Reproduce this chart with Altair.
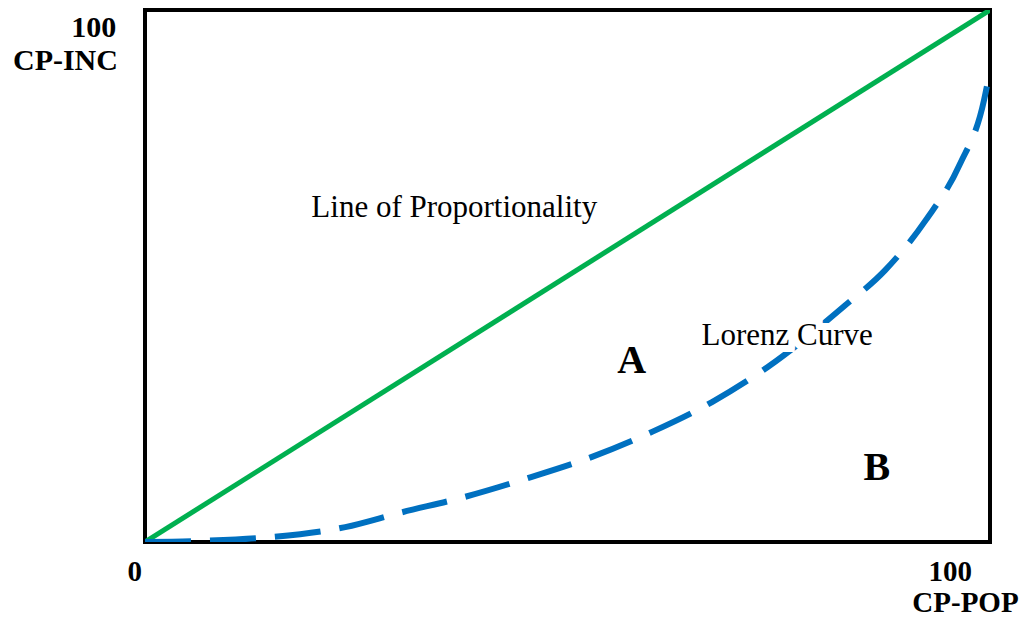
import altair as alt
import pandas as pd

# Lorenz curve (cumulative % population vs cumulative % income)
lorenz_x = [0, 6.5, 14.8, 23.7, 30.2, 37.9, 45.3, 52.9, 60.0, 67.1, 73.7, 82.8, 87.6, 92.4, 96.4, 99.3, 100]
lorenz_y = [0, 0.2, 0.9, 2.8, 5.5, 8.5, 12.0, 16.0, 20.7, 26.3, 32.9, 44.4, 51.1, 60.5, 70.9, 83.1, 88.7]

# Line of proportionality
equal_x = [0, 100]
equal_y = [0, 100]

# Annotation labels
bold_labels = ["100", "CP-INC", "0", "100", "CP-POP"]
bold_x = [-3.4, -3.2, -1.2, 95.3, 97.1]
bold_y = [94.9, 88.7, -7.3, -7.3, -13.2]
bold_align = ["right", "right", "center", "center", "center"]

plain_labels = ["Line of Proportionality", "Lorenz Curve"]
plain_x = [36.6, 76.0]
plain_y = [61.1, 37.0]

area_labels = ["A", "B"]
area_x = [57.6, 86.6]
area_y = [31.8, 11.7]

lorenz_df = pd.DataFrame({"x": lorenz_x, "y": lorenz_y})
equal_df = pd.DataFrame({"x": equal_x, "y": equal_y})
bold_df = pd.DataFrame({"label": bold_labels, "x": bold_x, "y": bold_y, "align": bold_align})
plain_df = pd.DataFrame({"label": plain_labels, "x": plain_x, "y": plain_y})
area_df = pd.DataFrame({"label": area_labels, "x": area_x, "y": area_y})

xs = alt.Scale(domain=[0, 100], nice=False, zero=False)
ys = alt.Scale(domain=[0, 100], nice=False, zero=False)
X = alt.X("x:Q", scale=xs, axis=None)
Y = alt.Y("y:Q", scale=ys, axis=None)

equal_line = alt.Chart(equal_df).mark_line(color="#00B050", strokeWidth=5, clip=True).encode(x=X, y=Y)
lorenz_line = alt.Chart(lorenz_df).mark_line(
    color="#0070C0", strokeWidth=6, strokeDash=[46, 19],
    interpolate="monotone", clip=True
).encode(x=X, y=Y)

bold_left = alt.Chart(bold_df[bold_df["align"] == "right"]).mark_text(
    font="Liberation Serif", fontWeight="bold", fontSize=30, align="right", baseline="alphabetic", color="black"
).encode(x=X, y=Y, text="label:N")
bold_center = alt.Chart(bold_df[bold_df["align"] == "center"]).mark_text(
    font="Liberation Serif", fontWeight="bold", fontSize=29, align="center", baseline="alphabetic", color="black"
).encode(x=X, y=Y, text="label:N")
plain_halo = alt.Chart(plain_df).mark_text(
    font="Liberation Serif", fontSize=31, align="center", baseline="alphabetic",
    color="white", stroke="white", strokeWidth=14
).encode(x=X, y=Y, text="label:N")
plain_text = alt.Chart(plain_df).mark_text(
    font="Liberation Serif", fontSize=31, align="center", baseline="alphabetic", color="black"
).encode(x=X, y=Y, text="label:N")
area_text = alt.Chart(area_df).mark_text(
    font="Liberation Serif", fontWeight="bold", fontSize=40, align="center", baseline="alphabetic", color="black"
).encode(x=X, y=Y, text="label:N")

chart = alt.layer(
    equal_line, lorenz_line, bold_left, bold_center, plain_halo, plain_text, area_text
).properties(
    width=845, height=532,
    autosize=alt.AutoSizeParams(type="none"),
    padding={"left": 137, "top": 2, "right": 34, "bottom": 76},
    background="white",
).configure_view(stroke="black", strokeWidth=4)

chart.save("out.html", embed_options={"renderer": "svg", "actions": False})
